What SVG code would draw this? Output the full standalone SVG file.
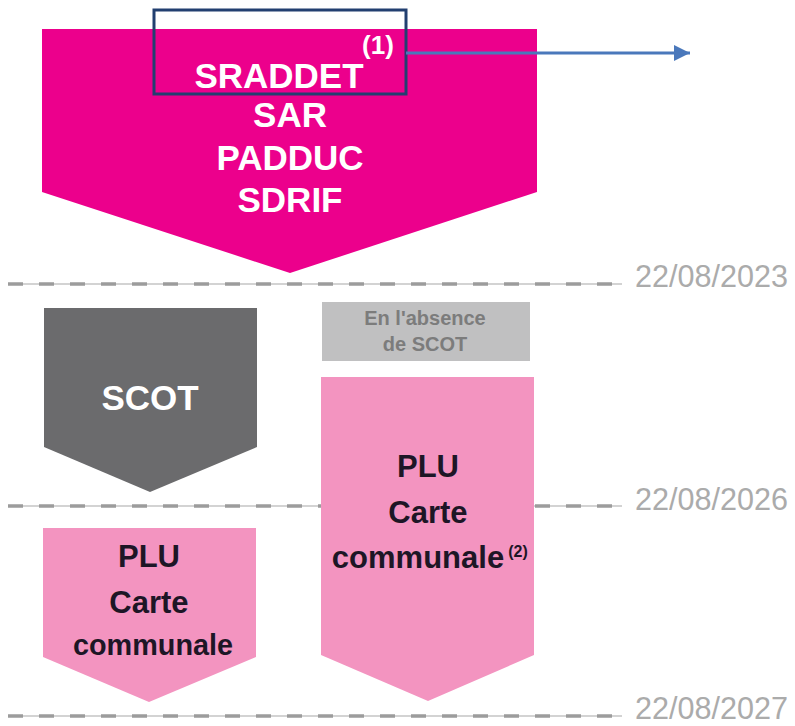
<svg xmlns="http://www.w3.org/2000/svg" width="795" height="726" viewBox="0 0 795 726">
  <defs>
    <style>
      .bold { font-family: "Liberation Sans", Arial, sans-serif; font-weight: bold; text-anchor: middle; }
      .white { fill: #ffffff; }
      .dark { fill: #1d1626; }
      .date { font-family: "Liberation Sans", Arial, sans-serif; font-size: 31px; fill: #ababab; }
      .rule-thin { stroke: #c4c4c4; stroke-width: 1.5; fill: none; }
      .rule-dash { stroke: #9c9c9c; stroke-width: 3.5; stroke-dasharray: 15 16; fill: none; }
    </style>
    <marker id="arrowhead" markerWidth="16" markerHeight="16" refX="16" refY="8" orient="auto" markerUnits="userSpaceOnUse">
      <path d="M0,0 L16,8 L0,16 Z" fill="#4a78bb"/>
    </marker>
  </defs>

  <rect width="795" height="726" fill="#ffffff"/>

  <!-- timeline rules with their dates -->
  <g id="timeline">
    <line class="rule-thin" x1="8" y1="284" x2="622" y2="284"/>
    <line class="rule-dash" x1="8" y1="284" x2="622" y2="284"/>
    <text class="date" x="635" y="287" textLength="153" lengthAdjust="spacingAndGlyphs">22/08/2023</text>

    <line class="rule-thin" x1="8" y1="506" x2="622" y2="506"/>
    <line class="rule-dash" x1="8" y1="506" x2="622" y2="506"/>
    <text class="date" x="635" y="510" textLength="153" lengthAdjust="spacingAndGlyphs">22/08/2026</text>

    <line class="rule-thin" x1="8" y1="716" x2="622" y2="716"/>
    <line class="rule-dash" x1="8" y1="716" x2="622" y2="716"/>
    <text class="date" x="635" y="719" textLength="153" lengthAdjust="spacingAndGlyphs">22/08/2027</text>
  </g>

  <!-- regional plans -->
  <g id="node-regional">
    <path d="M42,29 H537 V192 L290,273 L42,192 Z" fill="#ec008c"/>
    <text class="bold white" font-size="35" x="279" y="88">SRADDET</text>
    <text class="bold white" font-size="26" x="378" y="54">(1)</text>
    <text class="bold white" font-size="35" x="290" y="127">SAR</text>
    <text class="bold white" font-size="35" x="290" y="170">PADDUC</text>
    <text class="bold white" font-size="35" x="290" y="212">SDRIF</text>
  </g>

  <!-- SCOT -->
  <g id="node-scot">
    <path d="M44,308 H257 V447 L150,492 L44,447 Z" fill="#6b6b6d"/>
    <text class="bold white" font-size="35" x="150" y="410">SCOT</text>
  </g>

  <!-- condition label -->
  <g id="node-absence">
    <rect x="322" y="302" width="208" height="59" fill="#c0c0c1"/>
    <text class="bold" font-size="20" fill="#7c7c7c" x="425" y="325">En l'absence</text>
    <text class="bold" font-size="20" fill="#7c7c7c" x="425" y="351">de SCOT</text>
  </g>

  <!-- local plans without SCOT -->
  <g id="node-plu-right">
    <path d="M321,377 H534 V655 L428,701 L321,655 Z" fill="#f394c0"/>
    <text class="bold dark" font-size="31" x="428" y="477">PLU</text>
    <text class="bold dark" font-size="31" x="428" y="523">Carte</text>
    <text class="bold dark" font-size="31" x="418" y="568">communale</text>
    <text class="bold dark" font-size="16" x="518" y="557">(2)</text>
  </g>

  <!-- local plans under SCOT -->
  <g id="node-plu-left">
    <path d="M43,528 H256 V657 L149,702 L43,657 Z" fill="#f394c0"/>
    <text class="bold dark" font-size="31" x="149" y="567">PLU</text>
    <text class="bold dark" font-size="31" x="149" y="613">Carte</text>
    <text class="bold dark" font-size="30" textLength="160" lengthAdjust="spacingAndGlyphs" x="153" y="655">communale</text>
  </g>

  <!-- highlight frame and pointer -->
  <g id="connectors">
    <rect x="154" y="10" width="252" height="84" fill="none" stroke="#223f70" stroke-width="3"/>
    <line x1="406" y1="53" x2="690" y2="53" stroke="#4a78bb" stroke-width="3" marker-end="url(#arrowhead)"/>
  </g>
</svg>
